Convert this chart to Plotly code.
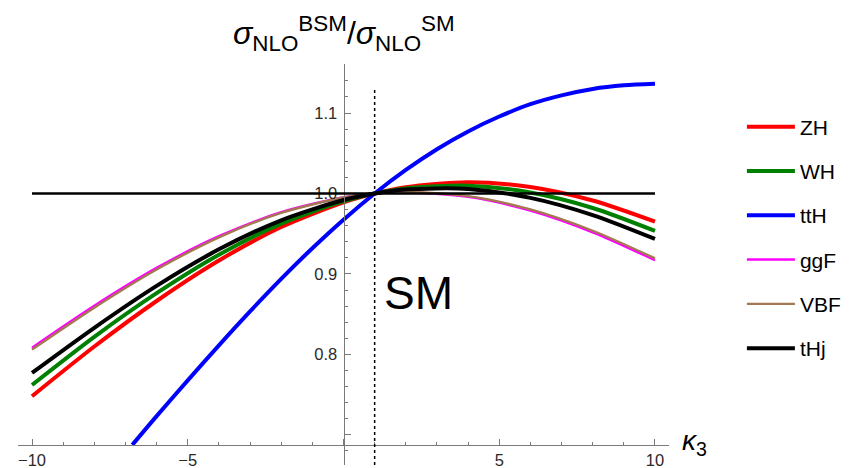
import plotly.graph_objects as go

# kappa_3 sample points
kappa = [-10, -8, -6, -4, -2, 0, 1, 2, 4, 6, 8, 10]
zh   = [0.748, 0.8098, 0.8664, 0.9167, 0.9583, 0.9891, 1.0, 1.0078, 1.0140, 1.0081, 0.9913, 0.9650]
wh   = [0.762, 0.8218, 0.8761, 0.9239, 0.9626, 0.9905, 1.0, 1.0063, 1.0097, 1.0012, 0.9820, 0.9535]
ggf  = [0.8084, 0.8605, 0.9075, 0.9469, 0.9767, 0.9953, 1.0, 1.0016, 0.9959, 0.9788, 0.9518, 0.9171]
vbf  = [0.8060, 0.8581, 0.9055, 0.9455, 0.9758, 0.9950, 1.0, 1.0019, 0.9968, 0.9802, 0.9537, 0.9194]
thj  = [0.777, 0.8331, 0.8852, 0.9306, 0.9667, 0.9919, 1.0, 1.0050, 1.0057, 0.9946, 0.9732, 0.9435]
tth_kappa = [-6.78, -6, -5, -4, -3, -2, -1, 0, 1, 2, 3, 4, 5, 6, 7, 8, 9, 10]
tth  = [0.6875, 0.7232, 0.7677, 0.8113, 0.8535, 0.8939, 0.9320, 0.9675, 1.0, 1.0293,
        1.0551, 1.0772, 1.0957, 1.1110, 1.1220, 1.1300, 1.1345, 1.1365]

x_ticks = [-10, -5, 0, 5, 10]
x_ticktext = ["\u221210", "\u22125", "", "5", "10"]
y_ticks = [0.7, 0.8, 0.9, 1.0, 1.1]
y_ticktext = ["", "0.8", "0.9", "1.0", "1.1"]

FONT = "Liberation Sans, Arial, Helvetica, sans-serif"

series = [
    ("ZH", kappa, zh, "#ff0000", 4.0),
    ("WH", kappa, wh, "#008000", 4.0),
    ("ttH", tth_kappa, tth, "#0000ff", 4.0),
    ("ggF", kappa, ggf, "#ff00ff", 2.4),
    ("VBF", kappa, vbf, "#a47850", 2.4),
    ("tHj", kappa, thj, "#000000", 4.0),
]

fig = go.Figure()
for name, xs, ys, color, w in series:
    fig.add_trace(go.Scatter(
        x=xs, y=ys, mode="lines", name=name, legendgroup=name,
        line=dict(color=color, width=w, shape="spline", smoothing=0.8),
    ))

# SM reference line at ratio 1 and dotted SM marker at kappa_3 = 1
fig.add_shape(type="line", xref="x", yref="y", x0=-10, x1=10, y0=1, y1=1,
              line=dict(color="black", width=2.6), layer="above")
fig.add_shape(type="line", xref="x", yref="y", x0=1, x1=1, y0=0.6625, y1=1.13,
              line=dict(color="black", width=1.5, dash="dot"), layer="above")

axis_col = "#7a7a7a"
fig.update_xaxes(
    range=[-10.45, 10.45], anchor="free", position=0.0497,
    showline=True, linecolor=axis_col, linewidth=1,
    showgrid=False, zeroline=False,
    ticks="inside", ticklen=6, tickcolor=axis_col, tickwidth=1,
    tickmode="array", tickvals=x_ticks, ticktext=x_ticktext,
    tickfont=dict(family=FONT, size=16.5, color="#2a2a2a"),
    minor=dict(ticks="inside", ticklen=3.5, tickcolor=axis_col, tickmode="linear",
               tick0=0, dtick=1, showgrid=False),
)
fig.update_yaxes(
    range=[0.6625, 1.161], anchor="free", position=0.5, side="left",
    showline=True, linecolor=axis_col, linewidth=1,
    showgrid=False, zeroline=False,
    ticks="inside", ticklen=6, tickcolor=axis_col, tickwidth=1,
    tickmode="array", tickvals=y_ticks, ticktext=y_ticktext,
    ticklabelstandoff=3,
    tickfont=dict(family=FONT, size=16.5, color="#2a2a2a"),
    minor=dict(ticks="inside", ticklen=3.5, tickcolor=axis_col, tickmode="linear",
               tick0=0.7, dtick=0.02, showgrid=False),
)

fig.add_annotation(
    text="<i>\u03c3</i><sub>NLO</sub><sup>BSM</sup>/<i>\u03c3</i><sub>NLO</sub><sup>SM</sup>",
    xref="paper", yref="paper", x=0.5, y=1.075, xanchor="center", yanchor="middle",
    showarrow=False, font=dict(family=FONT, size=32, color="black"))
fig.add_annotation(
    text="<i>\u03ba</i><sub>3</sub>", xref="paper", yref="paper",
    x=1.017, y=0.057, xanchor="left", yanchor="middle",
    showarrow=False, font=dict(family=FONT, size=28, color="black"))
fig.add_annotation(
    text="SM", xref="x", yref="y", x=1.23, y=0.8765, xanchor="left", yanchor="middle",
    showarrow=False, font=dict(family=FONT, size=46, color="black"))

# the page body adds an 8px offset, compensated in the margins
fig.update_layout(
    width=850, height=468, autosize=False,
    margin=dict(l=10, r=189, t=55.5, b=11, autoexpand=False),
    paper_bgcolor="white", plot_bgcolor="white",
    showlegend=True,
    legend=dict(x=1.112, y=0.894, xanchor="left", yanchor="top",
                font=dict(family=FONT, size=21, color="black"),
                tracegroupgap=14, itemwidth=48, bgcolor="rgba(0,0,0,0)"),
)

fig.write_html("out.html")
